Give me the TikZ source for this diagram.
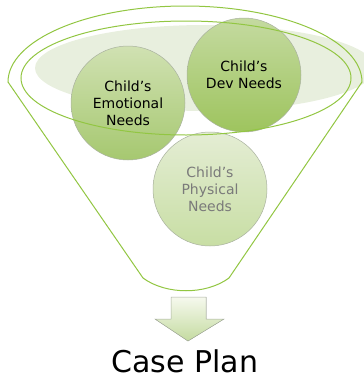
\documentclass[tikz,border=0pt]{standalone}
\usepackage{fontspec}
\setmainfont{DejaVu Sans}
\definecolor{funnelgreen}{RGB}{146,198,66}
\definecolor{haze}{RGB}{232,239,222}
\definecolor{needline}{RGB}{170,178,160}

\begin{document}
\begin{tikzpicture}[x=1pt,y=-1pt,
    need/.style={circle, draw=needline, line width=0.5pt, minimum size=114pt,
                 inner sep=0pt, align=center, font=\fontsize{14}{17}\selectfont}]

    \useasboundingbox (0,0) rectangle (364,378);

    \coordinate (L) at (8,82);
    \coordinate (R) at (362,82);
    \coordinate (BL) at (143,278);
    \coordinate (BR) at (229,278);

    % light backdrop inside the rim
    \fill [haze] (205,68) ellipse [x radius=170, y radius=43];

    \node [need, top color={rgb,255:red,208;green,225;blue,178}, bottom color={rgb,255:red,166;green,200;blue,112}]
        (emotional) at (128,103) {Child’s\\Emotional\\Needs};
    \node [need, top color={rgb,255:red,196;green,218;blue,160}, bottom color={rgb,255:red,158;green,196;blue,94}]
        (dev) at (244,75) {Child’s\\Dev Needs};
    \node [need, text=black!52, top color={rgb,255:red,228;green,237;blue,212}, bottom color={rgb,255:red,200;green,222;blue,164}]
        (physical) at (210,189) {Child’s\\Physical\\Needs};

    % funnel outline and inner rim
    \draw [funnelgreen, line width=1pt] (L) arc [start angle=180, end angle=360, x radius=177, y radius=76]
        -- (BR) .. controls (206,295) and (166,295) .. (BL) -- cycle;
    \draw [funnelgreen, line width=1pt] (186,78) ellipse [x radius=165, y radius=57];

    \filldraw [draw=needline, line width=0.5pt, top color={rgb,255:red,246;green,249;blue,238}, bottom color={rgb,255:red,196;green,219;blue,160}]
        (171,297) -- (206,297) -- (206,319) -- (224,319) -- (188,341) -- (155,319) -- (171,319) -- cycle;

    \node [font=\fontsize{30}{36}\selectfont, inner sep=0pt, anchor=base] (plan) at (185,372) {Case Plan};
\end{tikzpicture}
\end{document}
